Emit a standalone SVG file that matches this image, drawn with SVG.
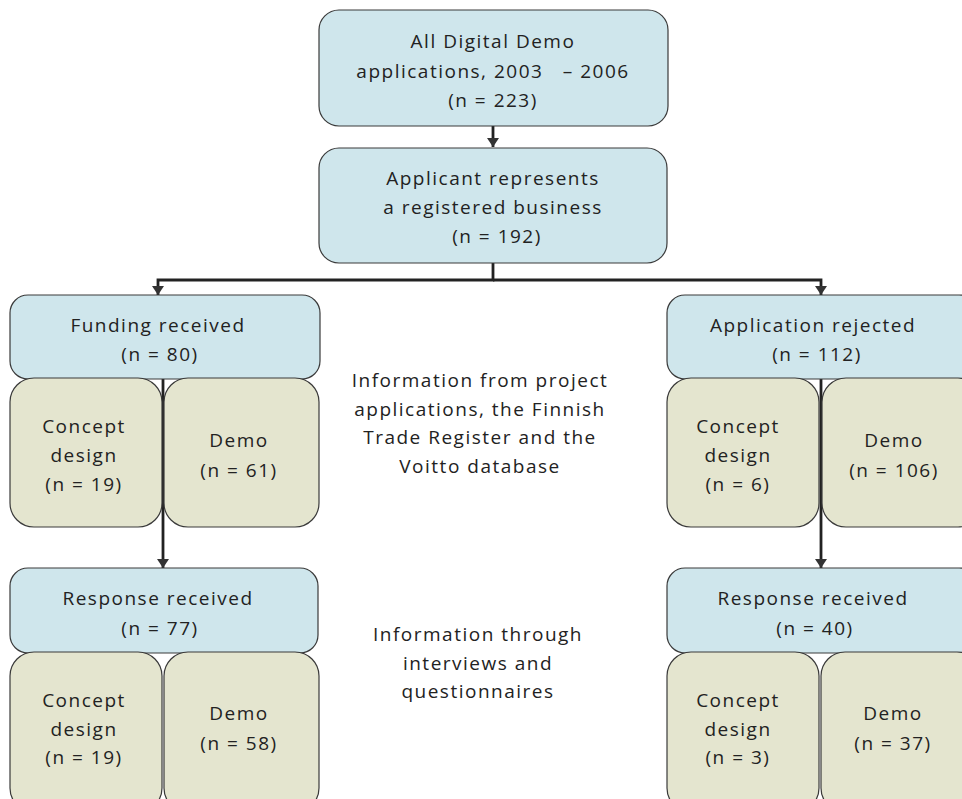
<svg xmlns="http://www.w3.org/2000/svg" width="962" height="799" viewBox="0 0 962 799">
<defs>
<style>
.blue{fill:#cfe6ec;stroke:#3a3a3a;stroke-width:1.2}
.green{fill:#e4e5cf;stroke:#3a3a3a;stroke-width:1.2}
text{font-family:"Open Sans","DejaVu Sans",sans-serif;font-size:19px;fill:#222;text-anchor:middle;letter-spacing:1.5px}
.conn{fill:none;stroke:#222;stroke-width:2.8}
</style>
</defs>
<rect width="962" height="799" fill="#fff"/>
<g id="connectors">
<path class="conn" d="M493,126 V147"/>
<path d="M487,138 L499,138 L493,147 Z" fill="#333"/>
<path class="conn" d="M493,263 V280 H158 V295"/>
<path d="M152,286 L164,286 L158,295 Z" fill="#333"/>
<path class="conn" d="M493,280 H821 V295"/>
<path d="M815,286 L827,286 L821,295 Z" fill="#333"/>
<path class="conn" d="M163,378 V568"/>
<path d="M157,559 L169,559 L163,568 Z" fill="#333"/>
<path class="conn" d="M821,378 V568"/>
<path d="M815,559 L827,559 L821,568 Z" fill="#333"/>
</g>
<g id="all-apps">
<rect class="blue" x="319" y="10" width="349" height="116" rx="20"/>
<text x="493" y="48">All Digital Demo</text>
<text x="493" y="78">applications, 2003 &#160; &#8211; 2006</text>
<text x="493" y="107">(n = 223)</text>
</g>
<g id="registered">
<rect class="blue" x="319" y="148" width="348" height="115" rx="20"/>
<text x="493" y="185">Applicant represents</text>
<text x="493" y="214">a registered business</text>
<text x="497" y="243">(n = 192)</text>
</g>
<g id="funding">
<rect class="blue" x="10" y="295" width="310" height="84" rx="18"/>
<text x="158" y="332">Funding received</text>
<text x="160" y="361">(n = 80)</text>
</g>
<g id="funding-concept">
<rect class="green" x="10" y="378" width="152" height="149" rx="24"/>
<text x="84" y="433">Concept</text>
<text x="84" y="462">design</text>
<text x="84" y="491">(n = 19)</text>
</g>
<g id="funding-demo">
<rect class="green" x="164" y="378" width="155" height="149" rx="24"/>
<text x="239" y="447">Demo</text>
<text x="239" y="477">(n = 61)</text>
</g>
<g id="rejected">
<rect class="blue" x="667" y="295" width="310" height="84" rx="18"/>
<text x="813" y="332">Application rejected</text>
<text x="817" y="361">(n = 112)</text>
</g>
<g id="rejected-concept">
<rect class="green" x="667" y="378" width="152" height="149" rx="24"/>
<text x="738" y="433">Concept</text>
<text x="738" y="462">design</text>
<text x="738" y="491">(n = 6)</text>
</g>
<g id="rejected-demo">
<rect class="green" x="822" y="378" width="160" height="149" rx="24"/>
<text x="894" y="447">Demo</text>
<text x="894" y="477">(n = 106)</text>
</g>
<g id="info1">
<text x="480" y="387">Information from project</text>
<text x="480" y="416">applications, the Finnish</text>
<text x="480" y="444">Trade Register and the</text>
<text x="480" y="473">Voitto database</text>
</g>
<g id="resp-left">
<rect class="blue" x="10" y="568" width="308" height="85" rx="18"/>
<text x="158" y="605">Response received</text>
<text x="160" y="635">(n = 77)</text>
</g>
<g id="resp-left-concept">
<rect class="green" x="10" y="652" width="152" height="160" rx="24"/>
<text x="84" y="707">Concept</text>
<text x="84" y="736">design</text>
<text x="84" y="764">(n = 19)</text>
</g>
<g id="resp-left-demo">
<rect class="green" x="164" y="652" width="155" height="160" rx="24"/>
<text x="239" y="720">Demo</text>
<text x="239" y="750">(n = 58)</text>
</g>
<g id="info2">
<text x="478" y="641">Information through</text>
<text x="478" y="670">interviews and</text>
<text x="478" y="698">questionnaires</text>
</g>
<g id="resp-right">
<rect class="blue" x="667" y="568" width="310" height="85" rx="18"/>
<text x="813" y="605">Response received</text>
<text x="815" y="635">(n = 40)</text>
</g>
<g id="resp-right-concept">
<rect class="green" x="667" y="652" width="152" height="160" rx="24"/>
<text x="738" y="707">Concept</text>
<text x="738" y="736">design</text>
<text x="738" y="764">(n = 3)</text>
</g>
<g id="resp-right-demo">
<rect class="green" x="821" y="652" width="160" height="160" rx="24"/>
<text x="893" y="720">Demo</text>
<text x="893" y="750">(n = 37)</text>
</g>
</svg>
